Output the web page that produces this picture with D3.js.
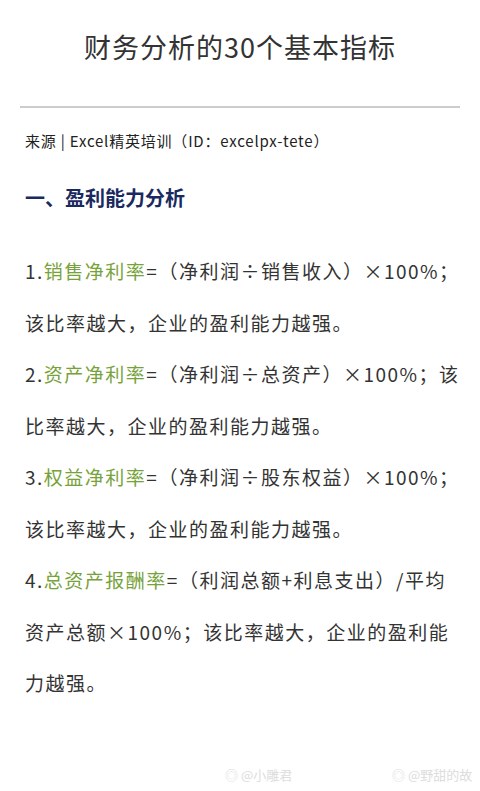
<!DOCTYPE html><html><head><meta charset="utf-8"><script src="https://cdn.jsdelivr.net/npm/d3@7"></script>
<style>body{margin:0;background:#fff}</style></head><body><svg id="c" width="480" height="791"></svg>
<script>
const title = "财务分析的30个基本指标";
const source = "来源 | Excel精英培训（ID：excelpx-tete）";
const heading = "一、盈利能力分析";
const lines = [
  [["1.",0],["销售净利率",1],["=（净利润÷销售收入）×100%；",0]],
  [["该比率越大，企业的盈利能力越强。",0]],
  [["2.",0],["资产净利率",1],["=（净利润÷总资产）×100%；该",0]],
  [["比率越大，企业的盈利能力越强。",0]],
  [["3.",0],["权益净利率",1],["=（净利润÷股东权益）×100%；",0]],
  [["该比率越大，企业的盈利能力越强。",0]],
  [["4.",0],["总资产报酬率",1],["=（利润总额+利息支出）/平均",0]],
  [["资产总额×100%；该比率越大，企业的盈利能",0]],
  [["力越强。",0]]
];
const watermarks = ["@小雕君","@野甜的故"];
const y = d3.scaleLinear().domain([0,8]).range([279,691]);
const svg = d3.select("#c");
const F = "'Noto Sans CJK SC','Noto Sans',sans-serif";
svg.append("text").attr("x",240).attr("y",58).attr("text-anchor","middle").attr("font-family",F).attr("font-size",27).attr("letter-spacing",1).attr("fill","#333").text(title);
svg.append("line").attr("x1",20).attr("x2",460).attr("y1",107).attr("y2",107).attr("stroke","#999").attr("stroke-width",1.2);
svg.append("text").attr("x",25).attr("y",147).attr("font-family",F).attr("font-size",15).attr("letter-spacing",0.8).attr("fill","#222").text(source);
svg.append("text").attr("x",25).attr("y",206).attr("font-family",F).attr("font-size",20).attr("font-weight","bold").attr("fill","#1a2a5e").text(heading);
lines.forEach((ln,i)=>{
  const t = svg.append("text").attr("x",25).attr("y",y(i)).attr("font-family",F).attr("font-size",19).attr("letter-spacing",1.5).attr("fill","#333");
  ln.forEach(([s,g])=>t.append("tspan").attr("fill",g?"#77a23a":"#333").text(s));
});
svg.append("text").attr("x",225).attr("y",780).attr("font-family",F).attr("font-size",13).attr("fill","#ddd").text("◎ "+watermarks[0]);
svg.append("text").attr("x",392).attr("y",780).attr("font-family",F).attr("font-size",13).attr("fill","#ddd").text("◎ "+watermarks[1]);
</script></body></html>
